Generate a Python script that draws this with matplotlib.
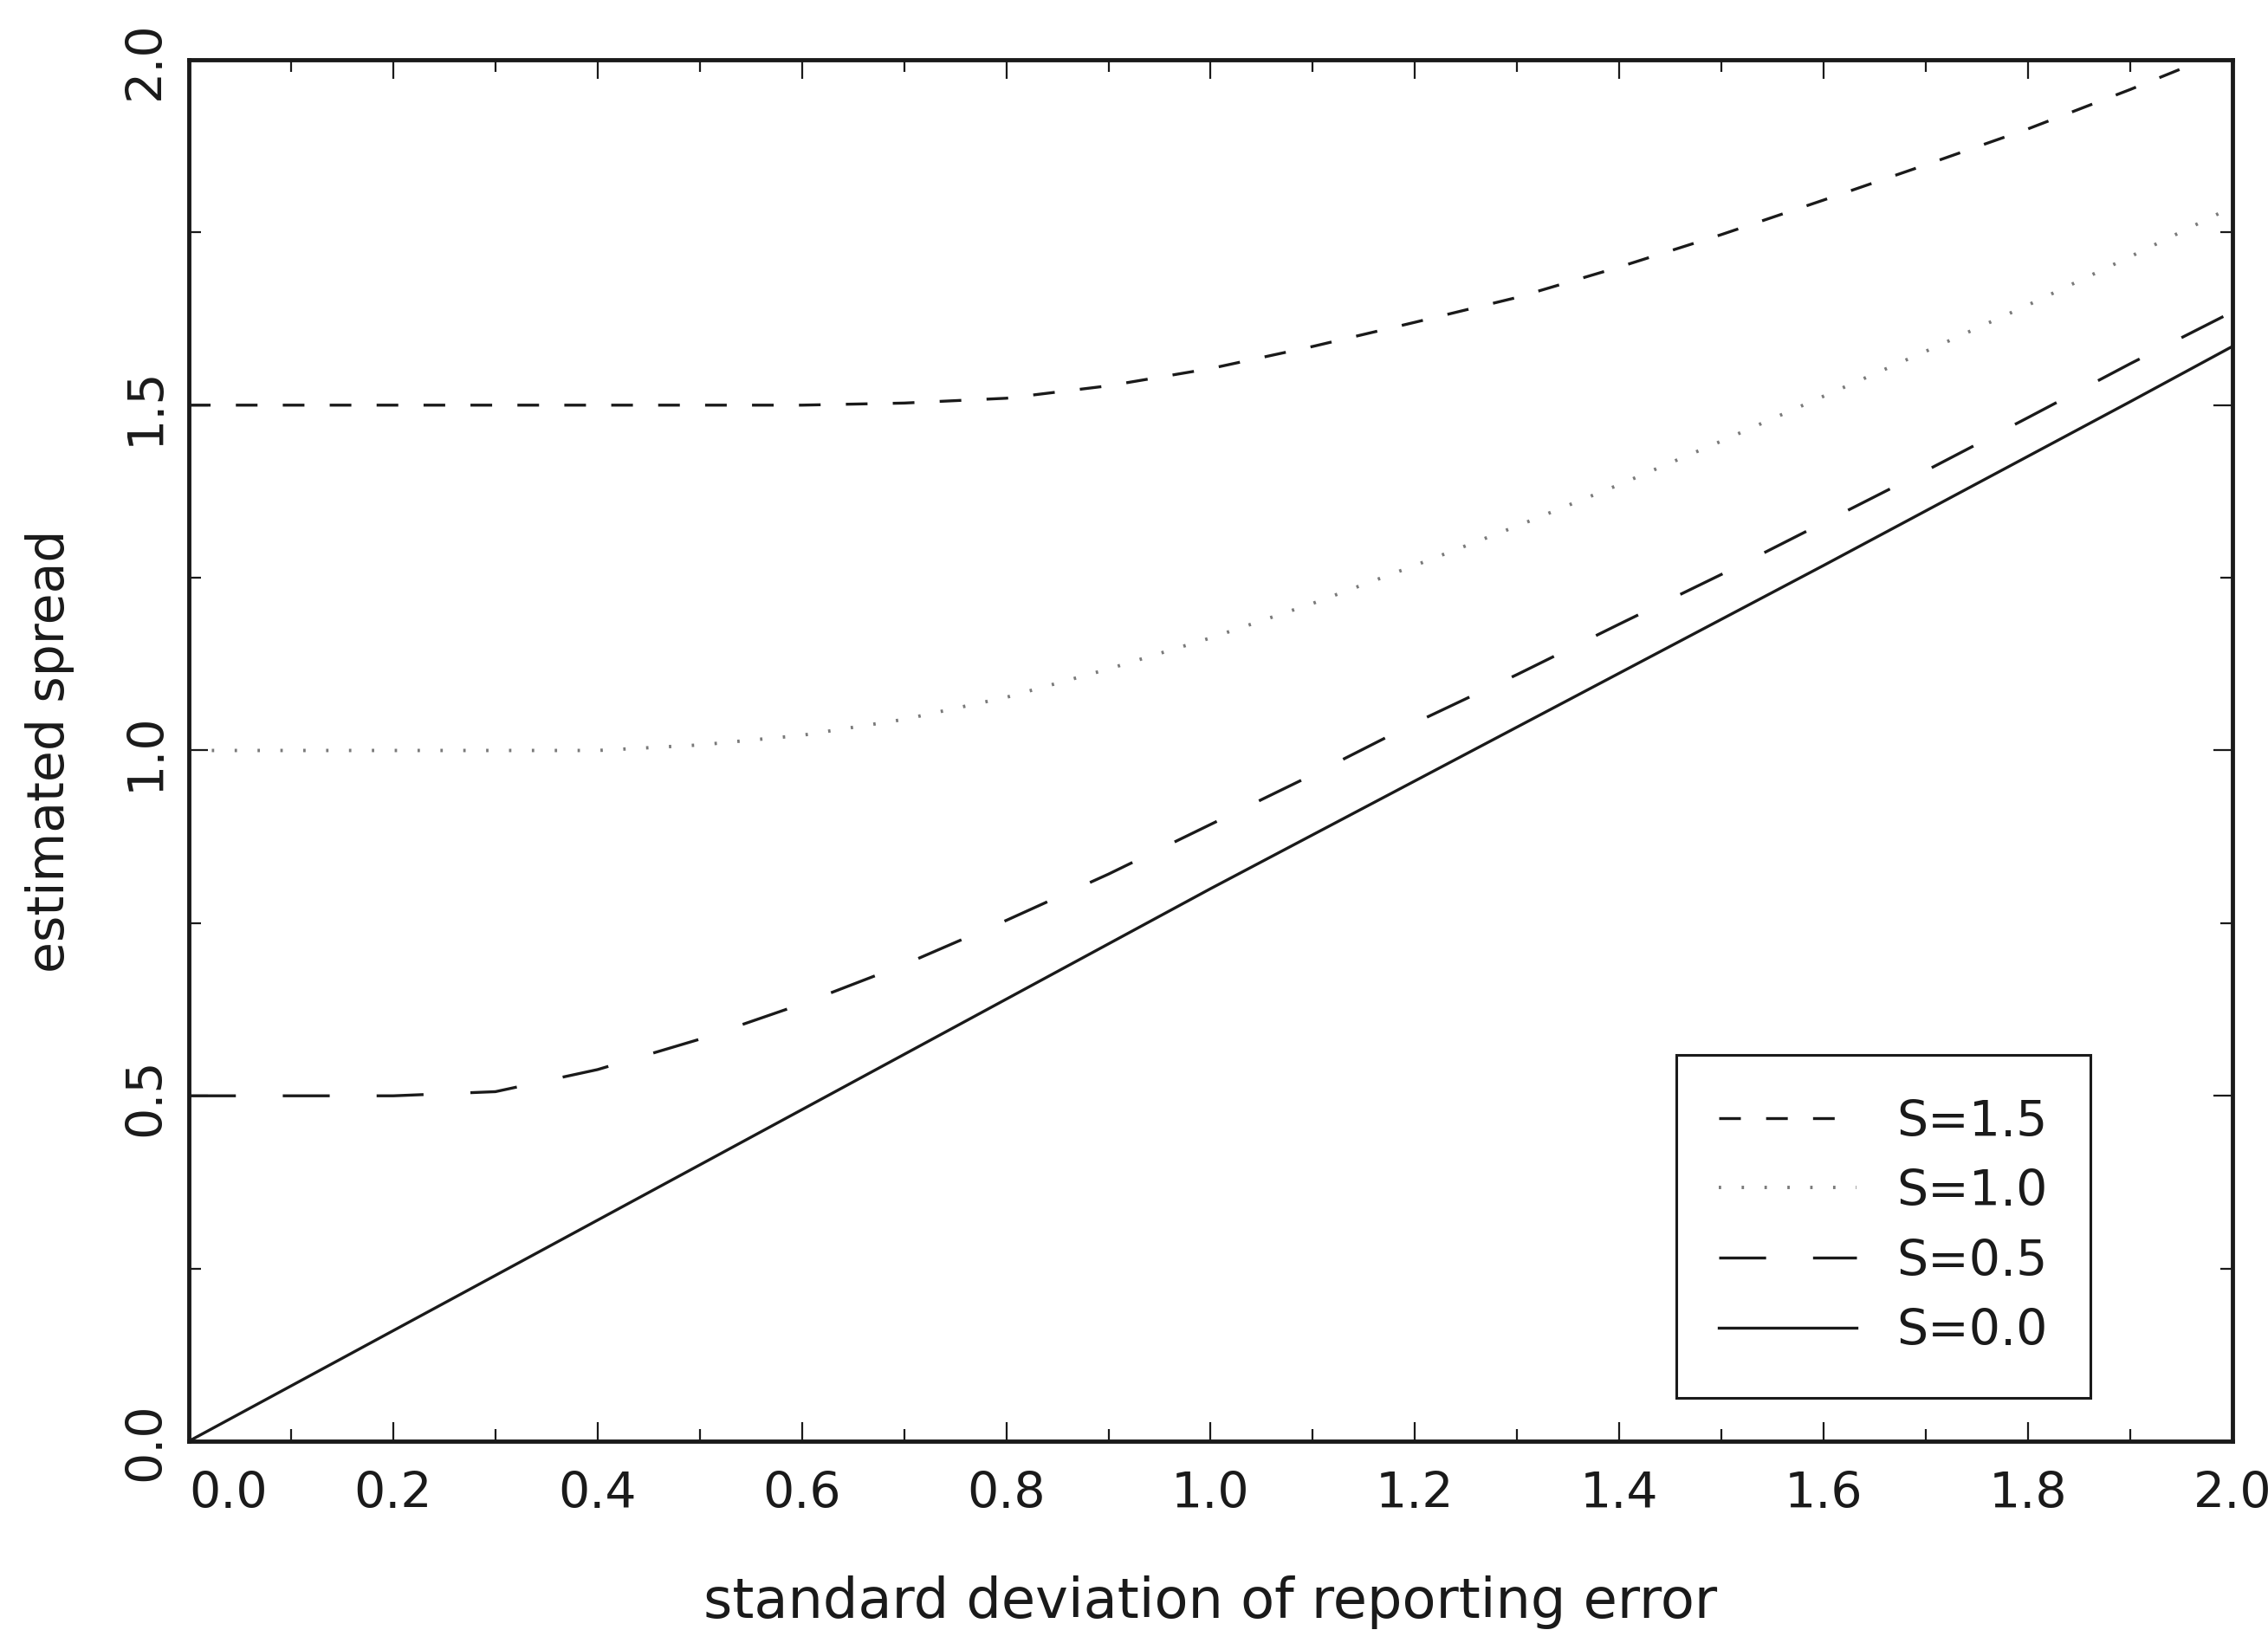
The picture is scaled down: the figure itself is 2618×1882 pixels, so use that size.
import matplotlib
matplotlib.use('Agg')
import matplotlib.pyplot as plt
from matplotlib.ticker import MultipleLocator

plt.rcParams['font.family'] = 'DejaVu Sans'
plt.rcParams['lines.scale_dashes'] = False  # dash lengths in points

# standard deviation of reporting error (x) and estimated spread per S
sd_error = [0.0, 0.1, 0.2, 0.3, 0.4, 0.5, 0.6, 0.7, 0.8, 0.9, 1.0,
            1.1, 1.2, 1.3, 1.4, 1.5, 1.6, 1.7, 1.8, 1.9, 2.0]
spread_s15 = [1.5, 1.5, 1.5, 1.5, 1.5, 1.5, 1.5, 1.503, 1.51, 1.528, 1.553,
              1.585, 1.62, 1.656, 1.70, 1.747, 1.797, 1.848, 1.9, 1.957, 2.017]
spread_s10 = [1.0, 1.0, 1.0, 1.0, 1.0, 1.008, 1.022, 1.045, 1.077, 1.118, 1.163,
              1.213, 1.268, 1.325, 1.385, 1.448, 1.513, 1.578, 1.645, 1.715, 1.787]
spread_s05 = [0.5, 0.5, 0.5, 0.506, 0.538, 0.582, 0.633, 0.69, 0.754, 0.821, 0.893,
              0.965, 1.04, 1.11, 1.183, 1.255, 1.33, 1.405, 1.482, 1.56, 1.635]
spread_s00 = [0.0, 0.08, 0.16, 0.24, 0.32, 0.40, 0.48, 0.56, 0.64, 0.72, 0.80,
              0.878, 0.956, 1.034, 1.112, 1.19, 1.268, 1.347, 1.426, 1.505, 1.585]

x_ticks = [0.0, 0.2, 0.4, 0.6, 0.8, 1.0, 1.2, 1.4, 1.6, 1.8, 2.0]
x_tick_labels = ['0.0', '0.2', '0.4', '0.6', '0.8', '1.0', '1.2', '1.4', '1.6', '1.8', '2.0']
y_ticks = [0.0, 0.5, 1.0, 1.5, 2.0]
y_tick_labels = ['0.0', '0.5', '1.0', '1.5', '2.0']

ink = '#1a1a1a'

fig = plt.figure(figsize=(26.18, 18.83), dpi=100)
ax = fig.add_axes([0.0833, 0.1158, 0.9010, 0.8470])

# curves
ax.plot(sd_error, spread_s15, color=ink, lw=2.4, dashes=(18, 21), label='S=1.5')
ax.plot(sd_error, spread_s10, color='#7a7a7a', lw=2.8, dashes=(2, 17), label='S=1.0')
ax.plot(sd_error, spread_s05, color=ink, lw=2.4, dashes=(39, 39), label='S=0.5')
ax.plot(sd_error, spread_s00, color=ink, lw=2.4, label='S=0.0')

ax.set_xlim(0, 2)
ax.set_ylim(0, 2)

# ticks on all four sides, pointing in
ax.set_xticks(x_ticks, x_tick_labels)
ax.set_yticks(y_ticks, y_tick_labels)
ax.xaxis.set_minor_locator(MultipleLocator(0.1))
ax.yaxis.set_minor_locator(MultipleLocator(0.25))
ax.tick_params(which='both', direction='in', top=True, right=True,
               width=1.6, color=ink, labelcolor=ink, labelsize=41)
ax.tick_params(which='major', length=16)
ax.tick_params(which='minor', length=10)
ax.tick_params(axis='x', pad=24)
ax.tick_params(axis='y', pad=16, labelrotation=90)
for lab in ax.get_yticklabels():
    lab.set_verticalalignment('center')
ax.get_xticklabels()[0].set_horizontalalignment('left')

for sp in ax.spines.values():
    sp.set_linewidth(3.5)
    sp.set_color(ink)

# axis labels
ax.set_xlabel('standard deviation of reporting error', fontsize=46, color=ink, va='center')
ax.xaxis.set_label_coords(0.5, -0.116)
ax.set_ylabel('estimated spread', fontsize=42, color=ink, va='center')
ax.yaxis.set_label_coords(-0.068, 0.5)

# legend box in the lower right
leg = ax.legend(loc='lower right', bbox_to_anchor=(0.9305, 0.0313), borderaxespad=0,
                fontsize=41, handlelength=2.8, handletextpad=0.8, labelspacing=0.45,
                borderpad=0.87, fancybox=False, framealpha=1, edgecolor=ink)
leg.get_frame().set_linewidth(2.2)
for t in leg.get_texts():
    t.set_color(ink)

fig.savefig('out.png', dpi=100)
